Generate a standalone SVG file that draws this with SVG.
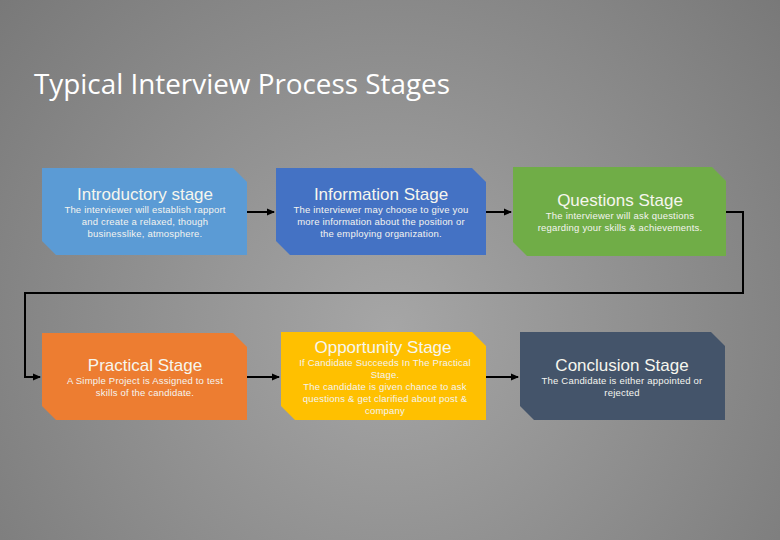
<svg xmlns="http://www.w3.org/2000/svg" width="780" height="540" viewBox="0 0 780 540">
<defs>
<radialGradient id="bg" cx="390" cy="330" r="520" gradientUnits="userSpaceOnUse">
<stop offset="0" stop-color="#a6a6a6"/>
<stop offset="1" stop-color="#787878"/>
</radialGradient>
<marker id="ah" markerWidth="8" markerHeight="8" refX="7" refY="4" orient="auto" markerUnits="userSpaceOnUse">
<path d="M0,0.5 L8,4 L0,7.5 Z" fill="#000"/>
</marker>
</defs>
<style>
.t{font-family:"Liberation Sans",Arial,sans-serif;font-size:17px;fill:#f6f6ee;text-anchor:middle}
.b{font-family:"Liberation Sans",Arial,sans-serif;font-size:9.5px;fill:#f4f4f0;text-anchor:middle;letter-spacing:0.2px}
.c{fill:none;stroke:#000;stroke-width:2}
</style>
<rect width="780" height="540" fill="url(#bg)"/>
<text x="34" y="94" font-family="Open Sans, sans-serif" font-size="27" fill="#ffffff" textLength="416" lengthAdjust="spacingAndGlyphs">Typical Interview Process Stages</text>
<g id="connectors">
<path class="c" d="M247,212 H274" marker-end="url(#ah)"/>
<path class="c" d="M486,212 H511" marker-end="url(#ah)"/>
<path class="c" d="M726,212 H743 V293 H25 V377 H40" marker-end="url(#ah)"/>
<path class="c" d="M247,377 H279" marker-end="url(#ah)"/>
<path class="c" d="M486,377 H518" marker-end="url(#ah)"/>
</g>
<g id="n1">
<path d="M42,168 H233 L247,182 V255 H56 L42,241 Z" fill="#5b9bd5"/>
<text class="t" x="145" y="200">Introductory stage</text>
<text class="b" x="145" y="213">The interviewer will establish rapport</text>
<text class="b" x="145" y="225">and create a relaxed, though</text>
<text class="b" x="145" y="237">businesslike, atmosphere.</text>
</g>
<g id="n2">
<path d="M276,168 H472 L486,182 V255 H290 L276,241 Z" fill="#4472c4"/>
<text class="t" x="381" y="200">Information Stage</text>
<text class="b" x="381" y="213">The interviewer may choose to give you</text>
<text class="b" x="381" y="225">more information about the position or</text>
<text class="b" x="381" y="237">the employing organization.</text>
</g>
<g id="n3">
<path d="M513,167 H712 L726,181 V256 H527 L513,242 Z" fill="#70ad47"/>
<text class="t" x="620" y="206">Questions Stage</text>
<text class="b" x="620" y="219">The interviewer will ask questions</text>
<text class="b" x="620" y="231">regarding your skills &amp; achievements.</text>
</g>
<g id="n4">
<path d="M42,333 H233 L247,347 V420 H56 L42,406 Z" fill="#ed7d31"/>
<text class="t" x="145" y="371">Practical Stage</text>
<text class="b" x="145" y="384">A Simple Project is Assigned to test</text>
<text class="b" x="145" y="396">skills of the candidate.</text>
</g>
<g id="n5">
<path d="M281,332 H472 L486,346 V420 H295 L281,406 Z" fill="#ffc000"/>
<text class="t" x="383" y="353">Opportunity Stage</text>
<text class="b" x="385" y="366">If Candidate Succeeds In The Practical</text>
<text class="b" x="385" y="378">Stage.</text>
<text class="b" x="385" y="390">The candidate is given chance to ask</text>
<text class="b" x="385" y="402">questions &amp; get clarified about post &amp;</text>
<text class="b" x="385" y="414">company</text>
</g>
<g id="n6">
<path d="M520,332 H711 L725,346 V420 H534 L520,406 Z" fill="#44546a"/>
<text class="t" x="622" y="371">Conclusion Stage</text>
<text class="b" x="622" y="384">The Candidate is either appointed or</text>
<text class="b" x="622" y="396">rejected</text>
</g>
</svg>
